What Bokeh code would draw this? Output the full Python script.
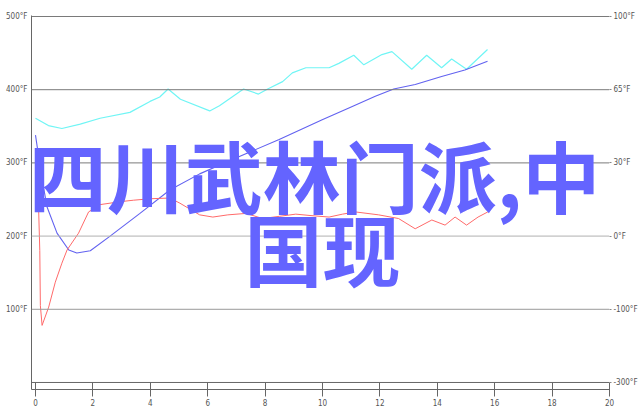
from bokeh.plotting import figure
from bokeh.models import Range1d, LinearAxis, FixedTicker, Span, Label
from bokeh.embed import file_html
from bokeh.resources import INLINE

# ---- data ----
x_ticks = [0, 2, 4, 6, 8, 10, 12, 14, 16, 18, 20]
left_ticks = [100, 200, 300, 400, 500]
left_labels = ["100°F", "200°F", "300°F", "400°F", "500°F"]
right_ticks = [0, 100, 200, 300, 400, 500]
right_labels = ["-300°F", "-100°F", "0°F", "30°F", "65°F", "100°F"]

cyan_x = [0, 0.45, 0.92, 1.56, 2.25, 3.29, 3.99, 4.33, 4.62, 5.05, 6.07, 6.41,
          7.25, 7.77, 8.09, 8.61, 8.95, 9.42, 10.23, 10.57, 11.09, 11.44,
          12.07, 12.42, 13.11, 13.63, 14.15, 14.5, 15.02, 15.75]
cyan_y = [361, 351, 347, 353, 361, 369, 384, 390, 401, 387, 371, 378,
          401, 394, 401, 411, 423, 430, 430, 436, 447, 434,
          448, 452, 428, 447, 430, 442, 428, 455]

blue_x = [0, 0.2, 0.4, 0.75, 1.16, 1.44, 1.91, 2.6, 3.64, 4.68, 5.72, 6.76,
          8.49, 9.99, 10.92, 11.84, 12.48, 13.23, 14.15, 14.96, 15.75]
blue_y = [338, 285, 240, 204, 181, 177, 180, 200, 231, 263, 285, 303,
          332, 359, 375, 391, 401, 407, 418, 427, 439]

red_x = [0.02, 0.06, 0.1, 0.15, 0.17, 0.23, 0.46, 0.69, 0.92, 1.1, 1.5, 1.85,
         2.25, 2.95, 3.41, 3.99, 4.68, 5.03, 5.72, 6.18, 6.7, 7.34, 7.91, 8.5,
         9.07, 9.6, 10.23, 10.7, 11.15, 11.96, 12.65, 13.23, 13.81, 14.27,
         14.62, 15.02, 15.42, 15.76]
red_y = [270, 300, 250, 180, 105, 78, 103, 137, 163, 181, 204, 233,
         243, 247, 249, 251, 252, 245, 229, 226, 229, 231, 224, 227,
         230, 228, 226, 230, 233, 229, 224, 210, 222, 215,
         226, 215, 226, 233]

title_line1 = "四川武林门派,中"
title_line2 = "国现"

# ---- figure ----
p = figure(width=640, height=410,
           x_range=Range1d(-0.139, 20), y_range=Range1d(-9.59, 501.37),
           output_backend="svg", toolbar_location=None,
           min_border_left=31, min_border_right=28,
           min_border_top=15, min_border_bottom=21)
p.outline_line_color = None
p.background_fill_color = "white"
p.xgrid.visible = False
p.ygrid.visible = False

grid_colors = {100: "#999999", 200: "#b0b0b0", 300: "#7a7a7a", 400: "#7a7a7a", 500: "#7a7a7a"}
for t in left_ticks:
    p.add_layout(Span(location=t, dimension="width", line_color=grid_colors[t], line_width=1))
p.add_layout(Span(location=0, dimension="width", line_color="#666666", line_width=1))

tick_font = "DejaVu Sans Condensed"

# bottom axis
xa = p.xaxis[0]
xa.ticker = FixedTicker(ticks=x_ticks)
xa.major_tick_in = 7
xa.major_tick_out = 7
xa.minor_tick_line_color = None
xa.axis_line_color = "#666666"
xa.major_tick_line_color = "#666666"
xa.major_label_standoff = 2
xa.major_label_text_font_size = "8px"
xa.major_label_text_color = "#555555"
xa.major_label_text_font = tick_font

# left axis
ya = p.yaxis[0]
ya.ticker = FixedTicker(ticks=left_ticks)
ya.major_label_overrides = dict(zip(left_ticks, left_labels))
ya.major_tick_in = 0
ya.major_tick_out = 0
ya.minor_tick_line_color = None
ya.axis_line_color = "#666666"
ya.major_label_standoff = 4
ya.major_label_text_font_size = "8px"
ya.major_label_text_color = "#555555"
ya.major_label_text_font = tick_font

# right axis
ra = LinearAxis(ticker=FixedTicker(ticks=right_ticks))
ra.major_label_overrides = dict(zip(right_ticks, right_labels))
ra.axis_line_color = None
ra.major_tick_in = 0
ra.major_tick_out = 2
ra.major_tick_line_color = "#888888"
ra.minor_tick_line_color = None
ra.major_label_standoff = 2
ra.major_label_text_font_size = "8px"
ra.major_label_text_color = "#555555"
ra.major_label_text_font = tick_font
p.add_layout(ra, "right")

# lines
p.line(cyan_x, cyan_y, line_color="#70f5f5", line_width=1.2)
p.line(blue_x, blue_y, line_color="#6262f0", line_width=1.1)
p.line(red_x, red_y, line_color="#ff6a6a", line_width=1.0)

# big overlay text
p.add_layout(Label(x=283, y=216, x_units="screen", y_units="screen", text=title_line1,
                   text_align="center", text_baseline="middle",
                   text_font="Noto Sans CJK SC", text_font_style="bold",
                   text_font_size="78px", text_color="#6464ff"))
p.add_layout(Label(x=291, y=143, x_units="screen", y_units="screen", text=title_line2,
                   text_align="center", text_baseline="middle",
                   text_font="Noto Sans CJK SC", text_font_style="bold",
                   text_font_size="78px", text_color="#6464ff"))

open("out.html", "w").write(file_html(p, INLINE))
